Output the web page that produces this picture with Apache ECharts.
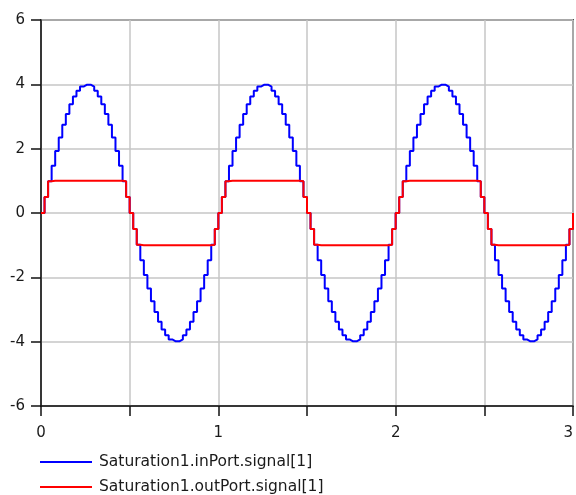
<!DOCTYPE html>
<html>
<head>
<meta charset="utf-8">
<script src="https://cdn.jsdelivr.net/npm/echarts@6/dist/echarts.min.js"></script>
<style>
  html, body { margin: 0; padding: 0; background: #ffffff; }
  #chart { width: 576px; height: 495px; }
</style>
</head>
<body>
<div id="chart"></div>
<script>
// Sampled signals, one value per sample, held until the next sample.
const sampleInterval = 0.02;

const seriesNames = ['Saturation1.inPort.signal[1]', 'Saturation1.outPort.signal[1]'];

const inSignal = [
  0, 0.5, 0.99, 1.47, 1.93, 2.35, 2.74, 3.08, 3.38, 3.62, 3.8, 3.93, 3.99, 3.99, 3.93, 3.8, 3.62, 3.38, 3.08, 2.74, 2.35, 1.93, 1.47, 0.99, 0.5,
  0, -0.5, -0.99, -1.47, -1.93, -2.35, -2.74, -3.08, -3.38, -3.62, -3.8, -3.93, -3.99, -3.99, -3.93, -3.8, -3.62, -3.38, -3.08, -2.74, -2.35, -1.93, -1.47, -0.99, -0.5,
  0, 0.5, 0.99, 1.47, 1.93, 2.35, 2.74, 3.08, 3.38, 3.62, 3.8, 3.93, 3.99, 3.99, 3.93, 3.8, 3.62, 3.38, 3.08, 2.74, 2.35, 1.93, 1.47, 0.99, 0.5,
  0, -0.5, -0.99, -1.47, -1.93, -2.35, -2.74, -3.08, -3.38, -3.62, -3.8, -3.93, -3.99, -3.99, -3.93, -3.8, -3.62, -3.38, -3.08, -2.74, -2.35, -1.93, -1.47, -0.99, -0.5,
  0, 0.5, 0.99, 1.47, 1.93, 2.35, 2.74, 3.08, 3.38, 3.62, 3.8, 3.93, 3.99, 3.99, 3.93, 3.8, 3.62, 3.38, 3.08, 2.74, 2.35, 1.93, 1.47, 0.99, 0.5,
  0, -0.5, -0.99, -1.47, -1.93, -2.35, -2.74, -3.08, -3.38, -3.62, -3.8, -3.93, -3.99, -3.99, -3.93, -3.8, -3.62, -3.38, -3.08, -2.74, -2.35, -1.93, -1.47, -0.99, -0.5,
  0
];

const outSignal = [
  0, 0.5, 0.99, 1, 1, 1, 1, 1, 1, 1, 1, 1, 1, 1, 1, 1, 1, 1, 1, 1, 1, 1, 1, 0.99, 0.5,
  0, -0.5, -0.99, -1, -1, -1, -1, -1, -1, -1, -1, -1, -1, -1, -1, -1, -1, -1, -1, -1, -1, -1, -1, -0.99, -0.5,
  0, 0.5, 0.99, 1, 1, 1, 1, 1, 1, 1, 1, 1, 1, 1, 1, 1, 1, 1, 1, 1, 1, 1, 1, 0.99, 0.5,
  0, -0.5, -0.99, -1, -1, -1, -1, -1, -1, -1, -1, -1, -1, -1, -1, -1, -1, -1, -1, -1, -1, -1, -1, -0.99, -0.5,
  0, 0.5, 0.99, 1, 1, 1, 1, 1, 1, 1, 1, 1, 1, 1, 1, 1, 1, 1, 1, 1, 1, 1, 1, 0.99, 0.5,
  0, -0.5, -0.99, -1, -1, -1, -1, -1, -1, -1, -1, -1, -1, -1, -1, -1, -1, -1, -1, -1, -1, -1, -1, -0.99, -0.5,
  0
];

const xTicks = { min: 0, max: 3, interval: 0.5 };
const yTicks = { min: -6, max: 6, interval: 2 };

function toPoints(values) {
  return values.map((v, i) => [+(i * sampleInterval).toFixed(2), v]);
}

const FONT = '"DejaVu Sans", Verdana, sans-serif';

const chart = echarts.init(document.getElementById('chart'), null, { renderer: 'canvas' });

chart.setOption({
  animation: false,
  backgroundColor: '#ffffff',
  grid: {
    left: 41, right: 3, top: 20, bottom: 89,
    outerBoundsMode: 'none',
    containLabel: false,
    show: true,
    borderColor: '#505050',
    borderWidth: 2,
    backgroundColor: 'transparent'
  },
  legend: {
    orient: 'vertical',
    left: 40,
    top: 454,
    padding: 0,
    itemGap: 9,
    itemWidth: 52,
    itemHeight: 2,
    icon: 'rect',
    textStyle: { fontFamily: FONT, fontSize: 15.5, color: '#1a1a1a', padding: [0, 0, 0, 2] },
    data: seriesNames
  },
  xAxis: {
    type: 'value',
    min: xTicks.min, max: xTicks.max, interval: xTicks.interval,
    axisLine: { show: true, onZero: false, lineStyle: { color: '#111', width: 1.5 } },
    axisTick: { show: true, inside: false, length: 10, lineStyle: { color: '#111', width: 1.5 } },
    axisLabel: {
      margin: 20,
      alignMaxLabel: 'right',
      fontFamily: FONT, fontSize: 15, color: '#1a1a1a',
      formatter: v => (Number.isInteger(v) ? String(v) : '')
    },
    splitLine: { show: true, lineStyle: { color: '#c6c6c6', width: 1.5 } }
  },
  yAxis: {
    type: 'value',
    min: yTicks.min, max: yTicks.max, interval: yTicks.interval,
    axisLine: { show: true, onZero: false, lineStyle: { color: '#111', width: 1.5 } },
    axisTick: { show: true, inside: false, length: 10, lineStyle: { color: '#111', width: 1.5 } },
    axisLabel: { margin: 16, fontFamily: FONT, fontSize: 15, color: '#1a1a1a' },
    splitLine: { show: true, lineStyle: { color: '#c6c6c6', width: 1.5 } }
  },
  series: [
    {
      name: seriesNames[0],
      type: 'line',
      step: 'end',
      symbol: 'none',
      data: toPoints(inSignal),
      itemStyle: { color: '#0000ff' },
      lineStyle: { color: '#0000ff', width: 2 },
      z: 2
    },
    {
      name: seriesNames[1],
      type: 'line',
      step: 'end',
      symbol: 'none',
      data: toPoints(outSignal),
      itemStyle: { color: '#ff0000' },
      lineStyle: { color: '#ff0000', width: 2 },
      z: 3
    }
  ]
});
</script>
</body>
</html>
